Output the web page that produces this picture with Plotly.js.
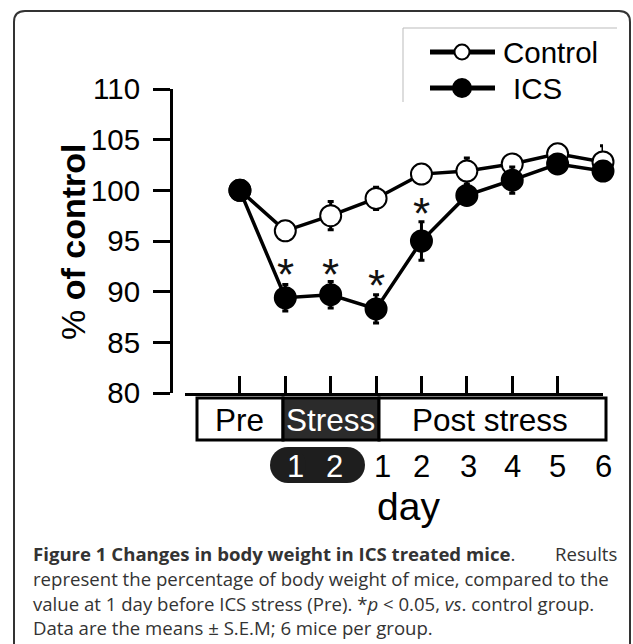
<!DOCTYPE html>
<html>
<head>
<meta charset="utf-8">
<script src="https://cdn.plot.ly/plotly-3.0.1.min.js"></script>
<style>
html,body{margin:0;padding:0;background:#fff;}
#chart{width:633px;height:644px;}
</style>
</head>
<body>
<div id="chart"></div>
<script>
// ---- data ----
const categories = ['Pre','Stress 1','Stress 2','Post 1','Post 2','Post 3','Post 4','Post 5','Post 6'];
const dayLabels  = ['', '1', '2', '1', '2', '3', '4', '5', '6'];
const control    = [100.0, 96.0, 97.5, 99.2, 101.6, 101.9, 102.6, 103.6, 102.8];
const controlErr = [0.5, 0.6, 1.4, 1.1, 0.7, 1.3, 0.9, 0.6, 1.6];
const ics        = [100.0, 89.4, 89.7, 88.3, 95.0, 99.5, 101.0, 102.6, 101.9];
const icsErr     = [0.6, 1.3, 1.3, 1.4, 1.9, 0.9, 1.3, 0.8, 0.8];
const sigCats    = ['Stress 1','Stress 2','Post 1','Post 2'];
const sigLevel   = [92.3, 92.3, 91.2, 98.3];
const yTicks     = [80, 85, 90, 95, 100, 105, 110];
const phaseNames = ['Pre', 'Stress', 'Post stress'];
const seriesNames = ['Control', 'ICS'];

// ---- helpers (page pixels -> paper fraction) ----
const W = 633, H = 644;
const px = v => v / W;
const py = v => 1 - v / H;
const FONT = 'Liberation Sans, Arial, sans-serif';

const traces = [
  {
    x: categories, y: control, name: seriesNames[0], type: 'scatter', mode: 'lines+markers',
    line: {color: '#000', width: 3.5},
    marker: {size: 21, color: '#fff', line: {color: '#000', width: 2}},
    error_y: {type: 'data', array: controlErr, visible: true, color: '#000', thickness: 3, width: 3},
    cliponaxis: false, showlegend: false
  },
  {
    x: categories, y: ics, name: seriesNames[1], type: 'scatter', mode: 'lines+markers',
    line: {color: '#000', width: 3.5},
    marker: {size: 21, color: '#000', line: {color: '#000', width: 2}},
    error_y: {type: 'data', array: icsErr, visible: true, color: '#000', thickness: 3, width: 3},
    cliponaxis: false, showlegend: false
  }
];

const shapes = [];
const annotations = [];

// outer rounded frame
const fx0 = 14, fy0 = 11, fx1 = 630, fyb = 660, r = 11;
shapes.push({
  type: 'path', xref: 'paper', yref: 'paper',
  path: `M ${px(fx0)},${py(fyb)} L ${px(fx0)},${py(fy0 + r)} Q ${px(fx0)},${py(fy0)} ${px(fx0 + r)},${py(fy0)} ` +
        `L ${px(fx1 - r)},${py(fy0)} Q ${px(fx1)},${py(fy0)} ${px(fx1)},${py(fy0 + r)} L ${px(fx1)},${py(fyb)}`,
  line: {color: '#333', width: 2}
});

// legend box (top + left edges)
shapes.push({type: 'line', xref: 'paper', yref: 'paper', x0: px(403), x1: px(617), y0: py(28), y1: py(28), line: {color: '#bbb', width: 1}});
shapes.push({type: 'line', xref: 'paper', yref: 'paper', x0: px(403), x1: px(403), y0: py(28), y1: py(102), line: {color: '#bbb', width: 1}});
// legend entries
const legY = [52, 88];
const legR = [7.5, 9];
const legFill = ['#fff', '#000'];
const legTextX = [501, 511];
for (let i = 0; i < 2; i++) {
  shapes.push({type: 'line', xref: 'paper', yref: 'paper', x0: px(430), x1: px(495), y0: py(legY[i]), y1: py(legY[i]), line: {color: '#000', width: 5}});
  shapes.push({type: 'circle', xref: 'paper', yref: 'paper',
    x0: px(462 - legR[i]), x1: px(462 + legR[i]), y0: py(legY[i] - legR[i]), y1: py(legY[i] + legR[i]),
    fillcolor: legFill[i], line: {color: '#000', width: 2}});
  annotations.push({xref: 'paper', yref: 'paper', x: px(legTextX[i]), y: py(legY[i]), xanchor: 'left', yanchor: 'middle',
    text: seriesNames[i], showarrow: false, font: {family: FONT, size: 29.5, color: '#000'}});
}

// phase bar
const barTop = 398, barBot = 440;
const phaseEdges = [197, 283, 379, 606];
const phaseFill = ['#fff', '#2b2b2b', '#fff'];
const phaseText = ['#000', '#fff', '#000'];
for (let i = 0; i < 3; i++) {
  shapes.push({type: 'rect', xref: 'paper', yref: 'paper',
    x0: px(phaseEdges[i]), x1: px(phaseEdges[i + 1]), y0: py(barBot), y1: py(barTop),
    fillcolor: phaseFill[i], line: {color: '#000', width: 3}});
}
const phaseCx = [240, 330, 490];
for (let i = 0; i < 3; i++) {
  annotations.push({xref: 'paper', yref: 'paper', x: px(phaseCx[i]), y: py(420), xanchor: 'center', yanchor: 'middle',
    text: phaseNames[i], showarrow: false, font: {family: FONT, size: 31.5, color: phaseText[i]}});
}

// stress-day pill
const pl = 270, pr = 365, pt = 447, pb = 483, pr2 = (pb - pt) / 2;
shapes.push({type: 'rect', xref: 'paper', yref: 'paper', x0: px(pl + pr2), x1: px(pr - pr2), y0: py(pb), y1: py(pt), fillcolor: '#1e1e1e', line: {width: 0}});
shapes.push({type: 'circle', xref: 'paper', yref: 'paper', x0: px(pl), x1: px(pl + 2 * pr2), y0: py(pb), y1: py(pt), fillcolor: '#1e1e1e', line: {width: 0}});
shapes.push({type: 'circle', xref: 'paper', yref: 'paper', x0: px(pr - 2 * pr2), x1: px(pr), y0: py(pb), y1: py(pt), fillcolor: '#1e1e1e', line: {width: 0}});

// day labels under the axis
const dayShift = [0, 10, 4, 6, 0, 2, 0, 0, 0];
for (let i = 0; i < categories.length; i++) {
  if (!dayLabels[i]) continue;
  const inStress = categories[i].startsWith('Stress');
  annotations.push({xref: 'x', yref: 'paper', x: categories[i], y: py(466), xanchor: 'center', yanchor: 'middle', xshift: dayShift[i],
    text: dayLabels[i], showarrow: false, font: {family: FONT, size: 31, color: inStress ? '#fff' : '#000'}});
}
annotations.push({xref: 'paper', yref: 'paper', x: px(408), y: py(506), xanchor: 'center', yanchor: 'middle',
  text: 'day', showarrow: false, font: {family: FONT, size: 39, color: '#000'}});

// y title
annotations.push({xref: 'paper', yref: 'paper', x: px(73), y: py(242), xanchor: 'center', yanchor: 'middle', textangle: -90,
  text: '% <b>of control</b>', showarrow: false, font: {family: FONT, size: 34, color: '#000'}});

// significance marks
for (let i = 0; i < sigCats.length; i++) {
  annotations.push({xref: 'x', yref: 'y', x: sigCats[i], y: sigLevel[i], xanchor: 'center', yanchor: 'middle', yshift: -6,
    text: '*', showarrow: false, font: {family: FONT, size: 44, color: '#111'}});
}

// caption
const CAP = 'Open Sans, Noto Sans, sans-serif';
const capLines = [
  '<b>Figure 1 Changes in body weight in ICS treated mice</b>.',
  'represent the percentage of body weight of mice, compared to the',
  'value at 1 day before ICS stress (Pre). *<i>p</i> &lt; 0.05, <i>vs</i>. control group.',
  'Data are the means ± S.E.M; 6 mice per group.'
];
const capY = [553, 578, 603, 627];
for (let i = 0; i < capLines.length; i++) {
  annotations.push({xref: 'paper', yref: 'paper', x: px(31), y: py(capY[i]), xanchor: 'left', yanchor: 'middle',
    text: capLines[i], showarrow: false, font: {family: CAP, size: 18.6, color: '#333'}});
}
annotations.push({xref: 'paper', yref: 'paper', x: px(620), y: py(capY[0]), xanchor: 'right', yanchor: 'middle',
  text: 'Results', showarrow: false, font: {family: CAP, size: 18.6, color: '#333'}});

const layout = {
  width: W, height: H,
  margin: {l: 0, r: 0, t: 0, b: 0},
  paper_bgcolor: '#fff', plot_bgcolor: 'rgba(0,0,0,0)',
  showlegend: false,
  xaxis: {
    type: 'category', categoryorder: 'array', categoryarray: categories,
    range: [-1.21, 8], domain: [px(185), px(603)], anchor: 'y',
    showline: true, linecolor: '#000', linewidth: 3,
    ticks: 'inside', ticklen: 17, tickwidth: 3, tickcolor: '#000',
    showticklabels: false, showgrid: false, zeroline: false, fixedrange: true
  },
  yaxis: {
    range: [80, 110], domain: [py(393), py(89)], anchor: 'free', position: px(171),
    tickvals: yTicks, ticktext: yTicks.map(String),
    showline: true, linecolor: '#000', linewidth: 3,
    ticks: 'outside', ticklen: 17, tickwidth: 3, tickcolor: '#000',
    tickfont: {family: FONT, size: 29.5, color: '#000'}, ticklabelstandoff: 7,
    showgrid: false, zeroline: false, fixedrange: true
  },
  shapes: shapes,
  annotations: annotations
};

Plotly.newPlot('chart', traces, layout, {displayModeBar: false, staticPlot: true});
</script>
</body>
</html>
